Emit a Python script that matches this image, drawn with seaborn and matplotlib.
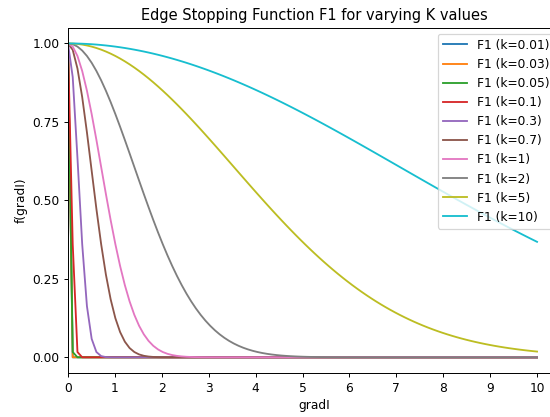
import numpy as np
import pandas as pd
import matplotlib
matplotlib.use("Agg")
import matplotlib.pyplot as plt
import seaborn as sns

# Diffusion constants and gradient magnitude grid
k_values = [0.01, 0.03, 0.05, 0.1, 0.3, 0.7, 1, 2, 5, 10]
grad_range = (0, 10)
n_samples = 100
y_ticks = [0.00, 0.25, 0.50, 0.75, 1.00]


def edge_stopping_f1(grad, k):
    """Perona-Malik edge stopping function exp(-(|grad I|/k)^2)."""
    return np.exp(-(grad / k) ** 2)


grad = np.linspace(grad_range[0], grad_range[1], n_samples)
frames = []
for k in k_values:
    frames.append(pd.DataFrame({
        "gradI": grad,
        "f": edge_stopping_f1(grad, k),
        "label": f"F1 (k={k})",
    }))
df = pd.concat(frames, ignore_index=True)

DPI = 88
fig = plt.figure(figsize=(550 / DPI, 417 / DPI), dpi=DPI)
ax = fig.add_axes([0.1236, 0.1055, 0.8955, 0.828])

sns.lineplot(data=df, x="gradI", y="f", hue="label",
             palette="tab10", linewidth=1.5, ax=ax)

ax.set_xlim(0, 10.5)
ax.set_ylim(-0.05, 1.05)
ax.set_xticks(range(0, 11))
ax.set_yticks(y_ticks)
ax.set_yticklabels([f"{t:.2f}" for t in y_ticks])
ax.set_title("Edge Stopping Function F1 for varying K values")
ax.set_xlabel("gradI")
ax.set_ylabel("f(gradI)")
ax.legend(loc="upper right", title=None)

fig.savefig("out.png", dpi=DPI)
